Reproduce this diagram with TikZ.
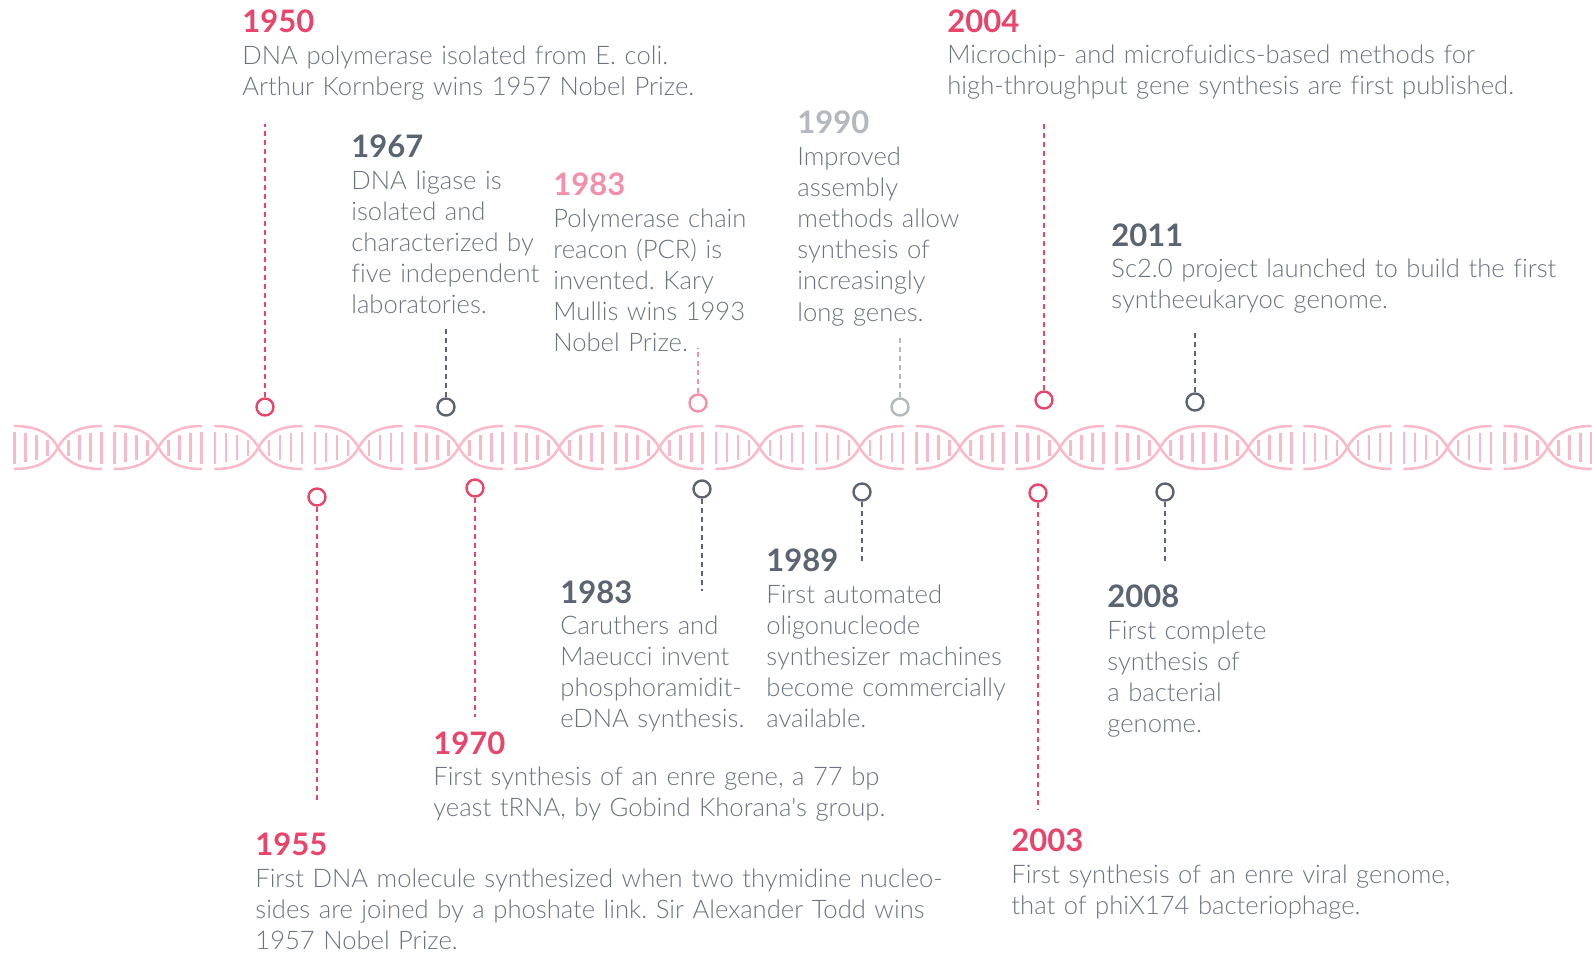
\documentclass[tikz,border=0pt]{standalone}
\usepackage{fontspec}
\IfFontExistsTF{Lato Light}{\newfontfamily\bodyfont{Lato Light}[Ligatures=NoCommon]}{\newfontfamily\bodyfont{Lato}[Ligatures=NoCommon]}
\newfontfamily\latofont{Lato}
\definecolor{cred}{HTML}{E9446A}
\definecolor{cslate}{HTML}{5B6471}
\definecolor{cpink}{HTML}{F48FA8}
\definecolor{cgray}{HTML}{B3B7BE}
\definecolor{ctxt}{HTML}{6B737F}
\definecolor{chelix}{HTML}{F9B9C9}
\def\fullrungs{0.5/16,11.5/14.5,22.5/12.5,33.5/8,54.5/8,65.5/12.5,76.5/14.5,87.5/16}
\def\lessrungs{11.5/14.5,22.5/12.5,33.5/8,54.5/8,65.5/12.5,76.5/14.5,87.5/16}
\tikzset{
  strand/.style={draw=chelix, line width=1.25pt},
  rung/.style={draw=chelix, line width=1.3pt},
  pics/dnaunit/.style={code={
    \draw[strand] (0,-21.5) .. controls (28,-21.5) and (38,-10.5) .. (44,0) .. controls (50,10.5) and (60,21.5) .. (88,21.5);
    \draw[strand] (0,21.5) .. controls (28,21.5) and (38,10.5) .. (44,0) .. controls (50,-10.5) and (60,-21.5) .. (88,-21.5);
    \foreach \d/\h in #1 {\draw[rung] (\d,-\h) -- (\d,\h);}
  }},
  yr/.style={anchor=base west, inner sep=0pt, font=\latofont\bfseries\fontsize{15.5}{18}\selectfont},
  body/.style={anchor=base west, inner sep=0pt, text width=420pt, align=left, text=ctxt,
    font=\bodyfont\frenchspacing\fontsize{12.8}{15.6}\selectfont},
  knob/.style={circle, line width=1.2pt, minimum size=8.5pt, inner sep=0pt, fill=white},
  link/.style={line width=1pt, dash pattern=on 2.5pt off 2pt},
}
\begin{document}
\begin{tikzpicture}[x=0.5pt,y=-0.5pt]
\useasboundingbox (0,0) rectangle (1592,954);
% DNA helix
\foreach \k in {0,...,11} {\pic at ({14+100.2*\k},447.5) {dnaunit=\fullrungs};}
\pic at (1204.2,447.5) {dnaunit=\lessrungs};
\foreach \xx in {1303.3,1403.5,1503.7} {\pic at (\xx,447.5) {dnaunit=\fullrungs};}

% 1950
\node[yr, text=cred] (y1950) at (242,32) {1950};
\node[body] (b1950) at (242,64) {DNA polymerase isolated from E. coli.\\Arthur Kornberg wins 1957 Nobel Prize.};
\node[knob, draw=cred] (k1950) at (265,407) {};
\coordinate (e1950) at (265,124);
\draw[link, cred] (k1950) -- (e1950);

% 1967
\node[yr, text=cslate] (y1967) at (351,157) {1967};
\node[body] (b1967) at (351,189) {DNA ligase is\\isolated and\\characterized by\\five independent\\laboratories.};
\node[knob, draw=cslate] (k1967) at (446,407) {};
\coordinate (e1967) at (446,328);
\draw[link, cslate] (k1967) -- (e1967);

% 1983 top
\node[yr, text=cpink] (y1983t) at (553,195) {1983};
\node[body] (b1983t) at (553,227) {Polymerase chain\\reacon (PCR) is\\invented. Kary\\Mullis wins 1993\\Nobel Prize.};
\node[knob, draw=cpink] (k1983t) at (698,403) {};
\coordinate (e1983t) at (698,348);
\draw[link, cpink] (k1983t) -- (e1983t);

% 1990
\node[yr, text=cgray] (y1990) at (797,133) {1990};
\node[body] (b1990) at (797,165) {Improved\\assembly\\methods allow\\synthesis of\\increasingly\\long genes.};
\node[knob, draw=cgray] (k1990) at (900,407) {};
\coordinate (e1990) at (900,335);
\draw[link, cgray] (k1990) -- (e1990);

% 2004
\node[yr, text=cred] (y2004) at (947,32) {2004};
\node[body] (b2004) at (947,63) {Microchip- and microfuidics-based methods for\\high-throughput gene synthesis are first published.};
\node[knob, draw=cred] (k2004) at (1044,400) {};
\coordinate (e2004) at (1044,124);
\draw[link, cred] (k2004) -- (e2004);

% 2011
\node[yr, text=cslate] (y2011) at (1111,246) {2011};
\node[body] (b2011) at (1111,277) {Sc2.0 project launched to build the first\\syntheeukaryoc genome.};
\node[knob, draw=cslate] (k2011) at (1195,402) {};
\coordinate (e2011) at (1195,330);
\draw[link, cslate] (k2011) -- (e2011);

% 1955
\node[yr, text=cred] (y1955) at (255,855) {1955};
\node[body] (b1955) at (255,887) {First DNA molecule synthesized when two thymidine nucleo-\\sides are joined by a phoshate link. Sir Alexander Todd wins\\1957 Nobel Prize.};
\node[knob, draw=cred] (k1955) at (317,497) {};
\coordinate (e1955) at (317,803);
\draw[link, cred] (k1955) -- (e1955);

% 1970
\node[yr, text=cred] (y1970) at (433,754) {1970};
\node[body] (b1970) at (433,785) {First synthesis of an enre gene, a 77 bp\\yeast tRNA, by Gobind Khorana's group.};
\node[knob, draw=cred] (k1970) at (475,488) {};
\coordinate (e1970) at (475,717);
\draw[link, cred] (k1970) -- (e1970);

% 1983 bottom
\node[yr, text=cslate] (y1983b) at (560,603) {1983};
\node[body] (b1983b) at (560,634) {Caruthers and\\Maeucci invent\\phosphoramidit-\\eDNA synthesis.};
\node[knob, draw=cslate] (k1983b) at (702,489) {};
\coordinate (e1983b) at (702,591);
\draw[link, cslate] (k1983b) -- (e1983b);

% 1989
\node[yr, text=cslate] (y1989) at (766,571) {1989};
\node[body] (b1989) at (766,603) {First automated\\oligonucleode\\synthesizer machines\\become commercially\\available.};
\node[knob, draw=cslate] (k1989) at (862,492) {};
\coordinate (e1989) at (862,564);
\draw[link, cslate] (k1989) -- (e1989);

% 2003
\node[yr, text=cred] (y2003) at (1011,851) {2003};
\node[body] (b2003) at (1011,883) {First synthesis of an enre viral genome,\\that of phiX174 bacteriophage.};
\node[knob, draw=cred] (k2003) at (1038,493) {};
\coordinate (e2003) at (1038,810);
\draw[link, cred] (k2003) -- (e2003);

% 2008
\node[yr, text=cslate] (y2008) at (1107,607) {2008};
\node[body] (b2008) at (1107,639) {First complete\\synthesis of\\a bacterial\\genome.};
\node[knob, draw=cslate] (k2008) at (1165,492) {};
\coordinate (e2008) at (1165,564);
\draw[link, cslate] (k2008) -- (e2008);
\end{tikzpicture}
\end{document}
